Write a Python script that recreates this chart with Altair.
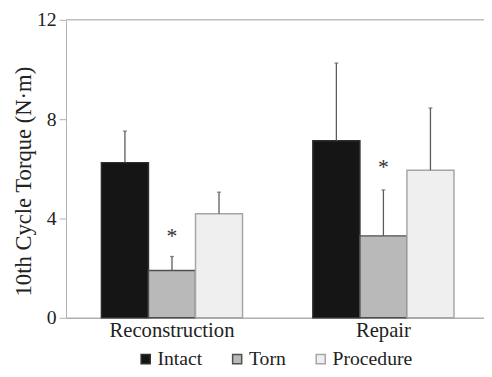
import altair as alt
import pandas as pd

groups = ["Reconstruction", "Reconstruction", "Reconstruction", "Repair", "Repair", "Repair"]
conditions = ["Intact", "Torn", "Procedure", "Intact", "Torn", "Procedure"]
means = [6.25, 1.91, 4.19, 7.13, 3.30, 5.94]
upper = [7.52, 2.47, 5.06, 10.26, 5.15, 8.45]

star_groups = ["Reconstruction", "Repair"]
star_conditions = ["Torn", "Torn"]
star_y = [3.45, 6.22]

cond_order = ["Intact", "Torn", "Procedure"]
group_order = ["Reconstruction", "Repair"]
fills = ["#151515", "#b9b9b9", "#efefef"]
strokes = ["#2e2e2e", "#4f4f4f", "#a6a6a6"]

df = pd.DataFrame({"group": groups, "condition": conditions, "mean": means, "upper": upper})
stars = pd.DataFrame({"group": star_groups, "condition": star_conditions, "y": star_y, "t": ["*", "*"]})

FONT = "Liberation Serif"

xscale = alt.Scale(paddingInner=0.3326, paddingOuter=0.1547, align=0.541)
x = alt.X("group:N", title=None, sort=group_order, scale=xscale,
          axis=alt.Axis(labelAngle=0, ticks=False, labelFontSize=21, labelFont=FONT,
                        labelColor="#222", labelPadding=2, domainColor="#b0b0b0", domainWidth=1.5))
xo = alt.XOffset("condition:N", sort=cond_order, scale=alt.Scale(paddingInner=0, paddingOuter=0))
yscale = alt.Scale(domain=[0, 12], nice=False)

bars = alt.Chart(df).mark_bar(strokeWidth=1.5).encode(
    x=x,
    xOffset=xo,
    y=alt.Y("mean:Q", scale=yscale, title="10th Cycle Torque (N·m)",
            axis=alt.Axis(values=[0, 4, 8, 12], tickSize=7, tickColor="#b0b0b0", domainColor="#b0b0b0",
                          labelFontSize=20, labelFont=FONT, labelColor="#222", labelPadding=3,
                          grid=False, titleFont=FONT, titleFontSize=23, titleFontWeight="normal",
                          titleColor="#222", titleY=164, titleX=-31)),
    fill=alt.Fill("condition:N", sort=cond_order, scale=alt.Scale(domain=cond_order, range=fills),
                  legend=alt.Legend(title=None, orient="none", legendX=71, legendY=335,
                                    direction="horizontal", symbolType="square", symbolSize=85,
                                    symbolStrokeWidth=1.5, labelFont=FONT, labelFontSize=20,
                                    labelColor="#222", columnPadding=25, labelOffset=2)),
    stroke=alt.Stroke("condition:N", sort=cond_order, scale=alt.Scale(domain=cond_order, range=strokes),
                      legend=None),
)

err = alt.Chart(df).mark_rule(color="#5a5a5a", strokeWidth=1.3).encode(
    x=alt.X("group:N", sort=group_order, scale=xscale, bandPosition=0.5),
    xOffset=xo,
    y=alt.Y("mean:Q", scale=yscale),
    y2="upper:Q",
)

caps = alt.Chart(df).mark_tick(color="#5a5a5a", thickness=1.3, size=4).encode(
    x=alt.X("group:N", sort=group_order, scale=xscale, bandPosition=0.5),
    xOffset=xo,
    y=alt.Y("upper:Q", scale=yscale),
)

star = alt.Chart(stars).mark_text(fontSize=22, font=FONT, color="#333", baseline="middle", dy=4).encode(
    x=alt.X("group:N", sort=group_order, scale=xscale, bandPosition=0.5),
    xOffset=alt.XOffset("condition:N", sort=cond_order),
    y=alt.Y("y:Q", scale=yscale),
    text="t:N",
)

top = alt.Chart(pd.DataFrame({"v": [12]})).mark_rule(color="#c0c0c0", strokeWidth=1.5).encode(
    y=alt.Y("v:Q", scale=yscale)
)

chart = alt.layer(top, bars, err, caps, star).properties(
    width=425, height=303,
    autosize=alt.AutoSizeParams(type="none"),
    padding={"left": 59, "top": 9, "right": 0, "bottom": 49},
).configure(background="white", font=FONT).configure_view(stroke=None).configure_legend(
    labelFont=FONT, labelFontSize=20
).configure_axis(labelFont=FONT, titleFont=FONT)

chart.save("out.html", embed_options={"renderer": "svg", "actions": False})
